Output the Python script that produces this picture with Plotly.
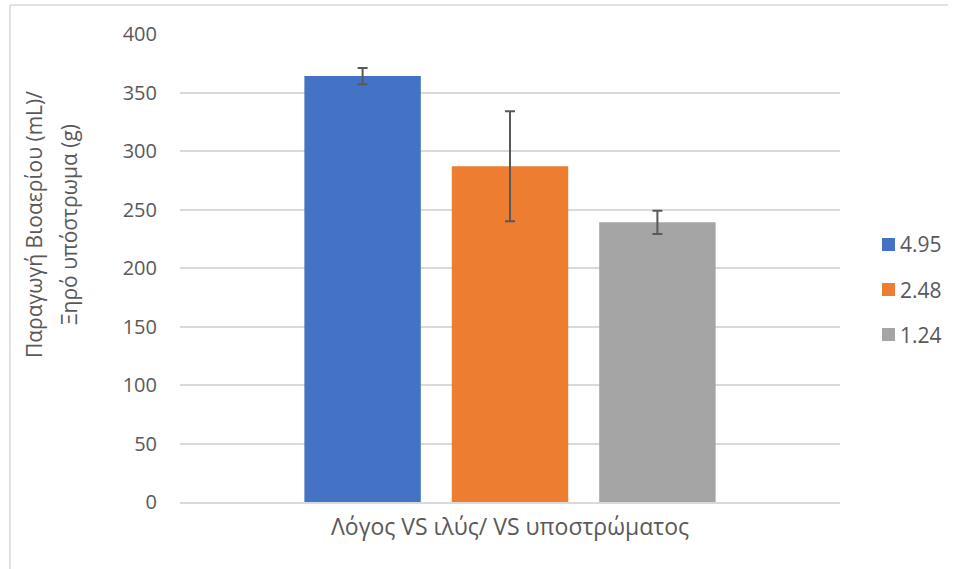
import plotly.graph_objects as go

category = ["Λόγος VS ιλύς/ VS υποστρώματος"]
series_names = ["4.95", "2.48", "1.24"]
series_values = [364, 287, 239]
series_errors = [7, 47, 10]
colors = ["#4472C4", "#ED7D31", "#A5A5A5"]
y_title_lines = ["Παραγωγή Βιοαερίου (mL)/", "Ξηρό υπόστρωμα (g)"]

FONT = "Open Sans"
GRAY = "#595959"
GRID = "#D9D9D9"

W, H = 958, 569
L, R, T, B = 180, 118, 34, 67
PW, PH = W - L - R, H - T - B


def px(x):
    """pixel column -> paper x"""
    return (x - L) / PW


def py(y):
    """pixel row -> paper y"""
    return (H - B - y) / PH


fig = go.Figure()
for name, val, err, col in zip(series_names, series_values, series_errors, colors):
    fig.add_trace(go.Bar(
        x=category,
        y=[val],
        name=name,
        marker=dict(color=col, line=dict(width=0)),
        error_y=dict(type="data", array=[err], visible=True,
                     color=GRAY, thickness=2, width=5),
        showlegend=False,
    ))

fig.update_layout(
    width=W,
    height=H,
    margin=dict(l=L, r=R, t=T, b=B, autoexpand=False),
    paper_bgcolor="white",
    plot_bgcolor="white",
    barmode="group",
    bargap=0.33,
    bargroupgap=0.21,
    font=dict(family=FONT, color=GRAY, size=20),
    showlegend=False,
    xaxis=dict(
        showgrid=False,
        showline=True,
        linecolor=GRID,
        linewidth=1.5,
        ticks="",
        ticklabelstandoff=4,
        tickfont=dict(size=23, color=GRAY),
    ),
    yaxis=dict(
        range=[0, 400],
        dtick=50,
        showgrid=True,
        gridcolor=GRID,
        gridwidth=1.5,
        zeroline=False,
        showline=False,
        ticks="",
        ticklabelstandoff=22,
        tickfont=dict(size=20, color=GRAY),
    ),
)

# y-axis title, two rotated lines
for line, xc in zip(y_title_lines, [34, 69]):
    fig.add_annotation(
        text=line, xref="paper", yref="paper",
        x=px(xc), y=py(225), xanchor="center", yanchor="middle",
        textangle=-90, showarrow=False,
        font=dict(family=FONT, size=21, color=GRAY),
    )

# legend: colour squares with labels
for i, (name, col) in enumerate(zip(series_names, colors)):
    yc = 244.5 + 45 * i
    fig.add_shape(type="rect", xref="paper", yref="paper",
                  x0=px(882), x1=px(895), y0=py(yc - 6.5), y1=py(yc + 6.5),
                  fillcolor=col, line=dict(width=0))
    fig.add_annotation(
        text=name, xref="paper", yref="paper",
        x=px(898), y=py(yc), xanchor="left", yanchor="middle",
        showarrow=False, font=dict(family=FONT, size=21, color=GRAY),
    )

# chart-area frame (top and left edges)
fig.add_shape(type="line", xref="paper", yref="paper",
              x0=px(10), x1=px(948), y0=py(5), y1=py(5),
              line=dict(color=GRID, width=1.5))
fig.add_shape(type="line", xref="paper", yref="paper",
              x0=px(10), x1=px(10), y0=py(5), y1=py(H + 2),
              line=dict(color=GRID, width=1.5))

fig.write_html("out.html")
